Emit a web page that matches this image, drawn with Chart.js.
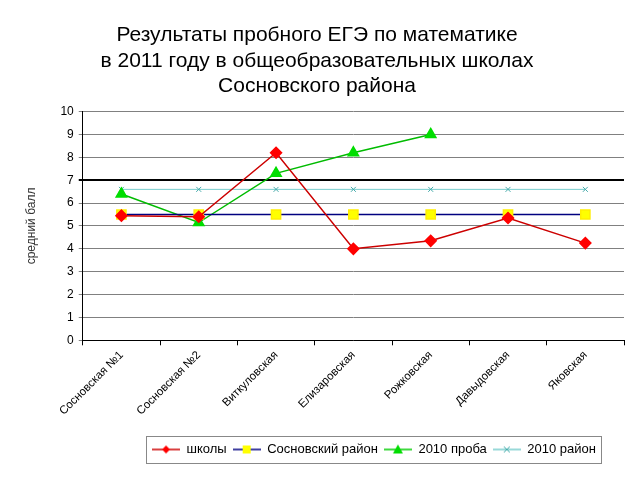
<!DOCTYPE html>
<html>
<head>
<meta charset="utf-8">
<script src="https://cdn.jsdelivr.net/npm/chart.js@4/dist/chart.umd.min.js"></script>
<style>
  html, body { margin: 0; padding: 0; background: #fff; }
  #wrap { width: 640px; height: 480px; }
</style>
</head>
<body>
<div id="wrap"><canvas id="egeChart" width="640" height="480"></canvas></div>
<script>
const schools = ['Сосновская №1', 'Сосновская №2', 'Виткуловская', 'Елизаровская', 'Рожковская', 'Давыдовская', 'Яковская'];
const schoolScores = [5.45, 5.4, 8.2, 4.0, 4.35, 5.35, 4.25];
const districtScores = [5.5, 5.5, 5.5, 5.5, 5.5, 5.5, 5.5];
const trial2010 = [6.4, 5.15, 7.3, 8.2, 9.0, null, null];
const district2010 = [6.6, 6.6, 6.6, 6.6, 6.6, 6.6, 6.6];
const yTicks = [0, 1, 2, 3, 4, 5, 6, 7, 8, 9, 10];

// small canvas with line + marker for the legend
function legendIcon(lineColor, drawMarker) {
  const c = document.createElement('canvas');
  c.width = 28; c.height = 14;
  const g = c.getContext('2d');
  g.strokeStyle = lineColor;
  g.lineWidth = 1.5;
  g.beginPath(); g.moveTo(0, 7); g.lineTo(28, 7); g.stroke();
  drawMarker(g, 14, 7);
  return c;
}

const icons = [
  legendIcon('#cc0000', (g, x, y) => {
    g.fillStyle = '#ff0000';
    g.beginPath(); g.moveTo(x, y - 4); g.lineTo(x + 4, y); g.lineTo(x, y + 4); g.lineTo(x - 4, y); g.closePath(); g.fill();
  }),
  legendIcon('#000080', (g, x, y) => {
    g.fillStyle = '#ffff00';
    g.fillRect(x - 4, y - 4, 8, 8);
  }),
  legendIcon('#00cc00', (g, x, y) => {
    g.fillStyle = '#00dd00';
    g.beginPath(); g.moveTo(x, y - 5); g.lineTo(x + 5, y + 4); g.lineTo(x - 5, y + 4); g.closePath(); g.fill();
  }),
  legendIcon('#77cccc', (g, x, y) => {
    g.strokeStyle = '#44aaaa'; g.lineWidth = 1;
    g.beginPath(); g.moveTo(x - 3, y - 3); g.lineTo(x + 3, y + 3); g.moveTo(x + 3, y - 3); g.lineTo(x - 3, y + 3); g.stroke();
  })
];

// legend sits right of centre in the original, title a bit left; grey frame round the legend
const LEGEND_SHIFT = 50;
const TITLE_SHIFT = -7;
const legendBox = {
  id: 'legendBox',
  afterLayout(chart) {
    const lg = chart.legend;
    lg.left += LEGEND_SHIFT;
    lg.right += LEGEND_SHIFT;
    lg.legendHitBoxes.forEach(b => { b.left += LEGEND_SHIFT; });
    chart.titleBlock.left += TITLE_SHIFT;
    chart.titleBlock.right += TITLE_SHIFT;
  },
  afterDraw(chart) {
    const boxes = chart.legend.legendHitBoxes;
    if (!boxes || !boxes.length) return;
    const left = Math.min(...boxes.map(b => b.left)) - 6;
    const right = Math.max(...boxes.map(b => b.left + b.width)) + 5;
    const top = Math.min(...boxes.map(b => b.top)) - 7;
    const bottom = Math.max(...boxes.map(b => b.top + b.height)) + 7;
    const ctx = chart.ctx;
    ctx.save();
    ctx.strokeStyle = '#888888';
    ctx.lineWidth = 1;
    ctx.strokeRect(Math.round(left) + 0.5, Math.round(top) + 0.5, Math.round(right - left), Math.round(bottom - top));
    ctx.restore();
  }
};

const ctx = document.getElementById('egeChart').getContext('2d');
new Chart(ctx, {
  type: 'line',
  data: {
    labels: schools,
    datasets: [{
      label: 'школы',
      data: schoolScores,
      borderColor: '#cc0000',
      borderWidth: 1.5,
      pointStyle: 'rectRot',
      pointRadius: 5.5,
      pointBackgroundColor: '#ff0000',
      pointBorderColor: '#ff0000',
      tension: 0
    }, {
      label: 'Сосновский район',
      data: districtScores,
      borderColor: '#000080',
      borderWidth: 1.5,
      pointStyle: 'rect',
      pointRadius: 6.5,
      pointBackgroundColor: '#ffff00',
      pointBorderColor: '#ffee00',
      tension: 0
    }, {
      label: '2010 проба',
      data: trial2010,
      borderColor: '#00bb00',
      borderWidth: 1.5,
      pointStyle: 'triangle',
      pointRadius: 6,
      pointBackgroundColor: '#00dd00',
      pointBorderColor: '#00dd00',
      tension: 0,
      spanGaps: false
    }, {
      label: '2010 район',
      data: district2010,
      borderColor: '#77cccc',
      borderWidth: 1,
      pointStyle: 'crossRot',
      pointRadius: 3.5,
      pointBorderColor: '#44aaaa',
      pointBorderWidth: 1,
      tension: 0
    }]
  },
  options: {
    responsive: false,
    animation: false,
    layout: { padding: { left: 24, right: 16, top: 4, bottom: 14 } },
    plugins: {
      title: {
        display: true,
        text: ['Результаты пробного ЕГЭ по математике', 'в 2011 году в общеобразовательных школах', 'Сосновского района'],
        color: '#000',
        font: { family: 'Liberation Sans, Arial', size: 21, weight: 'normal', lineHeight: 1.2 },
        padding: { top: 19, bottom: 13 }
      },
      legend: {
        position: 'bottom',
        labels: {
          usePointStyle: true,
          pointStyleWidth: 28,
          color: '#000',
          font: { family: 'Liberation Sans, Arial', size: 13 },
          padding: 6,
          generateLabels(chart) {
            return chart.data.datasets.map((ds, i) => ({
              text: ds.label,
              pointStyle: icons[i],
              fillStyle: 'transparent',
              strokeStyle: 'transparent',
              lineWidth: 0,
              fontColor: '#000',
              datasetIndex: i
            }));
          }
        }
      },
      tooltip: { enabled: false }
    },
    scales: {
      x: {
        offset: true,
        afterFit(axis) { axis.height += 16; },
        grid: {
          offset: true,
          drawOnChartArea: false,
          drawTicks: true,
          tickLength: 5,
          color: '#000'
        },
        border: { color: '#000' },
        ticks: {
          color: '#000',
          font: { family: 'Liberation Sans, Arial', size: 11.5 },
          maxRotation: 45,
          minRotation: 45,
          autoSkip: false
        }
      },
      y: {
        min: 0,
        max: 10,
        afterBuildTicks(axis) { axis.ticks = yTicks.map(v => ({ value: v })); },
        grid: {
          color: c => c.tick && c.tick.value === 7 ? '#000' : '#808080',
          lineWidth: c => c.tick && c.tick.value === 7 ? 2 : 1,
          tickLength: 4
        },
        border: { color: '#000' },
        ticks: {
          color: '#000',
          font: { family: 'Liberation Sans, Arial', size: 12 },
          padding: 5
        },
        title: {
          display: true,
          text: 'средний балл',
          color: '#333',
          font: { family: 'Liberation Sans, Arial', size: 12 },
          padding: { top: 0, bottom: 17 }
        }
      }
    }
  },
  plugins: [legendBox]
});
</script>
</body>
</html>
